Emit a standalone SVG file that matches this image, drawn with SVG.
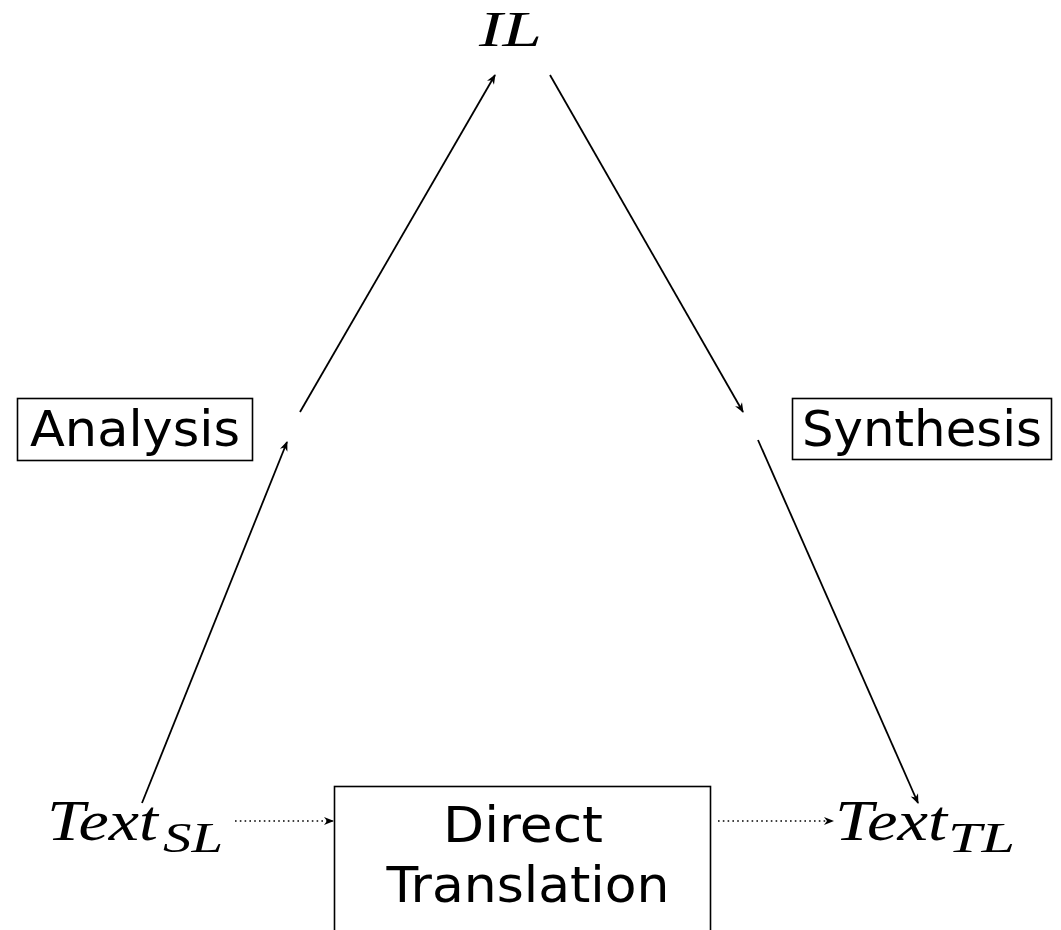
<svg xmlns="http://www.w3.org/2000/svg" width="1061" height="930" viewBox="0 0 1061 930">
<style>
.sans{font-family:"DejaVu Sans","Liberation Sans",sans-serif;font-size:50px;fill:#000}
.math{font-family:"Liberation Serif","DejaVu Serif",serif;font-style:italic;font-size:56px;fill:#000}
.sub{font-size:42px}
.box{fill:none;stroke:#000;stroke-width:1.6}
.edge{stroke:#000;stroke-width:1.8;fill:none;marker-end:url(#ah)}
.dot{stroke:#000;stroke-width:1.6;fill:none;stroke-dasharray:1.6 3.2;marker-end:url(#ah)}
</style>
<defs>
<marker id="ah" viewBox="0 0 10 10" refX="9" refY="5" markerWidth="10" markerHeight="10" markerUnits="userSpaceOnUse" orient="auto">
<path d="M0,1 L10,5 L0,9 L3,5 Z" fill="#000"/>
</marker>
</defs>
<g id="IL"><text class="math" x="479" y="46" style="font-size:51px" textLength="63" lengthAdjust="spacingAndGlyphs">IL</text></g>
<g id="Analysis"><rect class="box" x="17.5" y="398.5" width="235" height="62"/><text class="sans" x="135" y="446" text-anchor="middle" textLength="210" lengthAdjust="spacingAndGlyphs">Analysis</text></g>
<g id="Synthesis"><rect class="box" x="792.5" y="398.5" width="259" height="61"/><text class="sans" x="922" y="446" text-anchor="middle" textLength="240" lengthAdjust="spacingAndGlyphs">Synthesis</text></g>
<g id="TextSL"><text class="math" x="47" y="840" textLength="111" lengthAdjust="spacingAndGlyphs">Text</text><text class="math sub" x="163" y="852" textLength="60" lengthAdjust="spacingAndGlyphs">SL</text></g>
<g id="TextTL"><text class="math" x="835" y="840" textLength="112" lengthAdjust="spacingAndGlyphs">Text</text><text class="math sub" x="948" y="852" textLength="67" lengthAdjust="spacingAndGlyphs">TL</text></g>
<g id="Direct"><rect class="box" x="334.5" y="786.5" width="376" height="200"/><text class="sans" x="523" y="842" text-anchor="middle" textLength="160" lengthAdjust="spacingAndGlyphs">Direct</text><text class="sans" x="528" y="902" text-anchor="middle" textLength="283" lengthAdjust="spacingAndGlyphs">Translation</text></g>
<g id="connectors">
<line class="edge" x1="142" y1="803" x2="287" y2="442"/>
<line class="edge" x1="300" y1="412" x2="495" y2="75"/>
<line class="edge" x1="550" y1="75" x2="743" y2="412"/>
<line class="edge" x1="758" y1="440" x2="918" y2="803"/>
<line class="dot" x1="235" y1="821" x2="333" y2="821"/>
<line class="dot" x1="718" y1="821" x2="833" y2="821"/>
</g>
</svg>
